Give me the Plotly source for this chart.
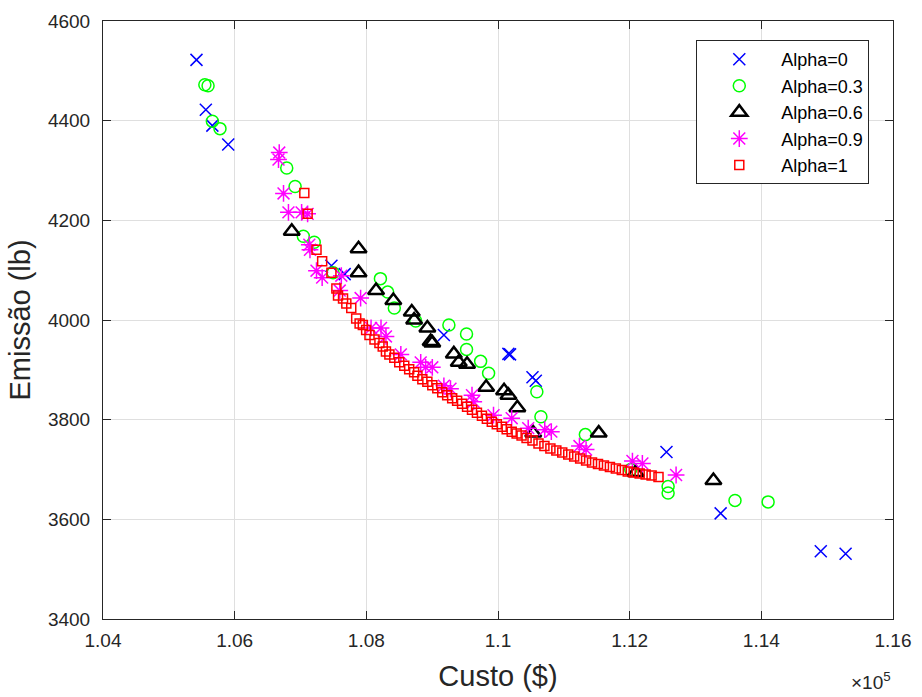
import plotly.graph_objects as go

# ---- data (Custo in $, Emissão in lb) ----
alpha0_custo = [105420, 105562, 105661, 105902, 107470, 107671, 109178, 110158, 110183,
                110524, 110574, 112559, 113382, 114903, 115280]
alpha0_emissao = [4522, 4422, 4390, 4352, 4109, 4092, 3970, 3932, 3931,
                  3885, 3878, 3735, 3612, 3536, 3531]

alpha03_custo = [105547, 105596, 105661, 105777, 106791, 106918, 107043, 107209, 107495,
                 108214, 108324, 108425, 108750, 109254, 109522, 109522, 109736, 109857,
                 110590, 110652, 111327, 112016, 112584, 112584, 113600, 114103]
alpha03_emissao = [4472, 4470, 4399, 4384, 4305, 4268, 4168, 4156, 4095,
                   4083, 4056, 4024, 3998, 3990, 3972, 3941, 3917, 3893,
                   3856, 3806, 3770, 3700, 3666, 3653, 3638, 3635]

alpha06_custo = [106867, 107882, 107882, 108148, 108410, 108690, 108726, 108927, 108977,
                 109002, 109329, 109404, 109530, 109820, 110092, 110158, 110294, 110535,
                 111530, 112092, 113272]
alpha06_emissao = [4178, 4143, 4095, 4059, 4039, 4016, 4000, 3984, 3957,
                   3954, 3932, 3915, 3911, 3865, 3858, 3849, 3824, 3773,
                   3773, 3694, 3678]

alpha09_custo = [106677, 106666, 106742, 106817, 107017, 107108, 107134, 107144, 107243,
                 107329, 107620, 107596, 107913, 108072, 108223, 108298, 108524, 108826,
                 108901, 109002, 109178, 109278, 109605, 109631, 109932, 110208, 110459,
                 110710, 110810, 111237, 111338, 112042, 112193, 112705]
alpha09_emissao = [4336, 4322, 4254, 4216, 4216, 4213, 4151, 4141, 4099,
                   4085, 4089, 4059, 4044, 3984, 3984, 3967, 3931, 3915,
                   3905, 3905, 3868, 3862, 3849, 3836, 3809, 3803, 3783,
                   3780, 3776, 3747, 3740, 3717, 3712, 3689]

alpha1_custo = [107058, 107108, 107243, 107329, 107470, 107545, 107570, 107646, 107696,
                107771, 107846, 107898, 107947, 107997, 108048, 108124, 108199, 108249,
                108298, 108350, 108425, 108500, 108576, 108651, 108726, 108776, 108851,
                108927, 109002, 109078, 109153, 109228, 109304, 109379, 109454, 109530,
                109605, 109680, 109756, 109831, 109906, 109982, 110057, 110132, 110208,
                110283, 110358, 110434, 110524, 110615, 110705, 110796, 110886, 110976,
                111067, 111157, 111248, 111338, 111428, 111519, 111609, 111700, 111790,
                111881, 111971, 112061, 112152, 112242, 112333, 112438]
alpha1_emissao = [4255, 4213, 4141, 4118, 4095, 4063, 4049, 4043, 4033,
                  4024, 4003, 3993, 3990, 3980, 3970, 3961, 3954, 3947,
                  3937, 3931, 3924, 3915, 3908, 3901, 3895, 3888, 3881,
                  3876, 3869, 3863, 3855, 3849, 3843, 3838, 3832, 3826,
                  3820, 3814, 3808, 3802, 3796, 3791, 3786, 3781, 3776,
                  3772, 3768, 3763, 3758, 3752, 3747, 3742, 3738, 3734,
                  3730, 3726, 3722, 3718, 3714, 3711, 3708, 3705, 3702,
                  3699, 3696, 3694, 3692, 3690, 3688, 3685]

x_tickvals = [104000, 106000, 108000, 110000, 112000, 114000, 116000]
x_ticktext = ["1.04", "1.06", "1.08", "1.1", "1.12", "1.14", "1.16"]
y_tickvals = [3400, 3600, 3800, 4000, 4200, 4400, 4600]

FONT = "Liberation Sans, Arial, Helvetica, sans-serif"
TXT = "#262626"

fig = go.Figure()
series = [
    ("Alpha=0", alpha0_custo, alpha0_emissao, "x-thin-open", "#0000FF", 12, 1.5),
    ("Alpha=0.3", alpha03_custo, alpha03_emissao, "circle-open", "#00FF00", 12, 1.5),
    ("Alpha=0.6", alpha06_custo, alpha06_emissao, "triangle-up-open", "#000000", 14, 2.5),
    ("Alpha=0.9", alpha09_custo, alpha09_emissao, "asterisk-open", "#FF00FF", 14, 1.5),
    ("Alpha=1", alpha1_custo, alpha1_emissao, "square-open", "#FF0000", 9, 1.5),
]
for name, xs, ys, sym, col, sz, lw in series:
    fig.add_trace(go.Scatter(
        x=xs, y=ys, mode="markers", name=name,
        marker=dict(symbol=sym, size=sz, color=col, line=dict(color=col, width=lw)),
    ))

axis_common = dict(
    showline=True, linecolor=TXT, linewidth=1, mirror="ticks",
    ticks="inside", ticklen=8, tickwidth=1, tickcolor=TXT,
    showgrid=True, gridcolor="#DFDFDF", gridwidth=1, zeroline=False,
    tickfont=dict(family=FONT, size=19, color=TXT),
)
fig.update_xaxes(range=[104000, 116000], tickvals=x_tickvals, ticktext=x_ticktext,
                 ticklabelstandoff=4,
                 title=dict(text="Custo ($)", font=dict(family=FONT, size=29, color=TXT), standoff=15),
                 **axis_common)
fig.update_yaxes(range=[3400, 4600], tickvals=y_tickvals, ticklabelstandoff=8,
                 title=dict(text="Emissão (lb)", font=dict(family=FONT, size=29, color=TXT), standoff=8),
                 **axis_common)

fig.add_annotation(text="×10<sup>5</sup>", xref="paper", yref="paper", x=1.0, y=-0.104,
                   xanchor="right", yanchor="middle", showarrow=False,
                   font=dict(family=FONT, size=19, color=TXT))

fig.update_layout(
    width=922, height=697,
    margin=dict(l=103, r=23, t=11, b=78),
    plot_bgcolor="white", paper_bgcolor="white",
    showlegend=True,
    legend=dict(x=0.751, y=0.968, xanchor="left", yanchor="top",
                bgcolor="white", bordercolor=TXT, borderwidth=1,
                font=dict(family=FONT, size=18, color="#000000"),
                itemwidth=74, tracegroupgap=0),
)

fig.write_html("out.html", config={"displayModeBar": False},
               post_script="document.body.style.margin='0';document.body.style.overflow='hidden';")
